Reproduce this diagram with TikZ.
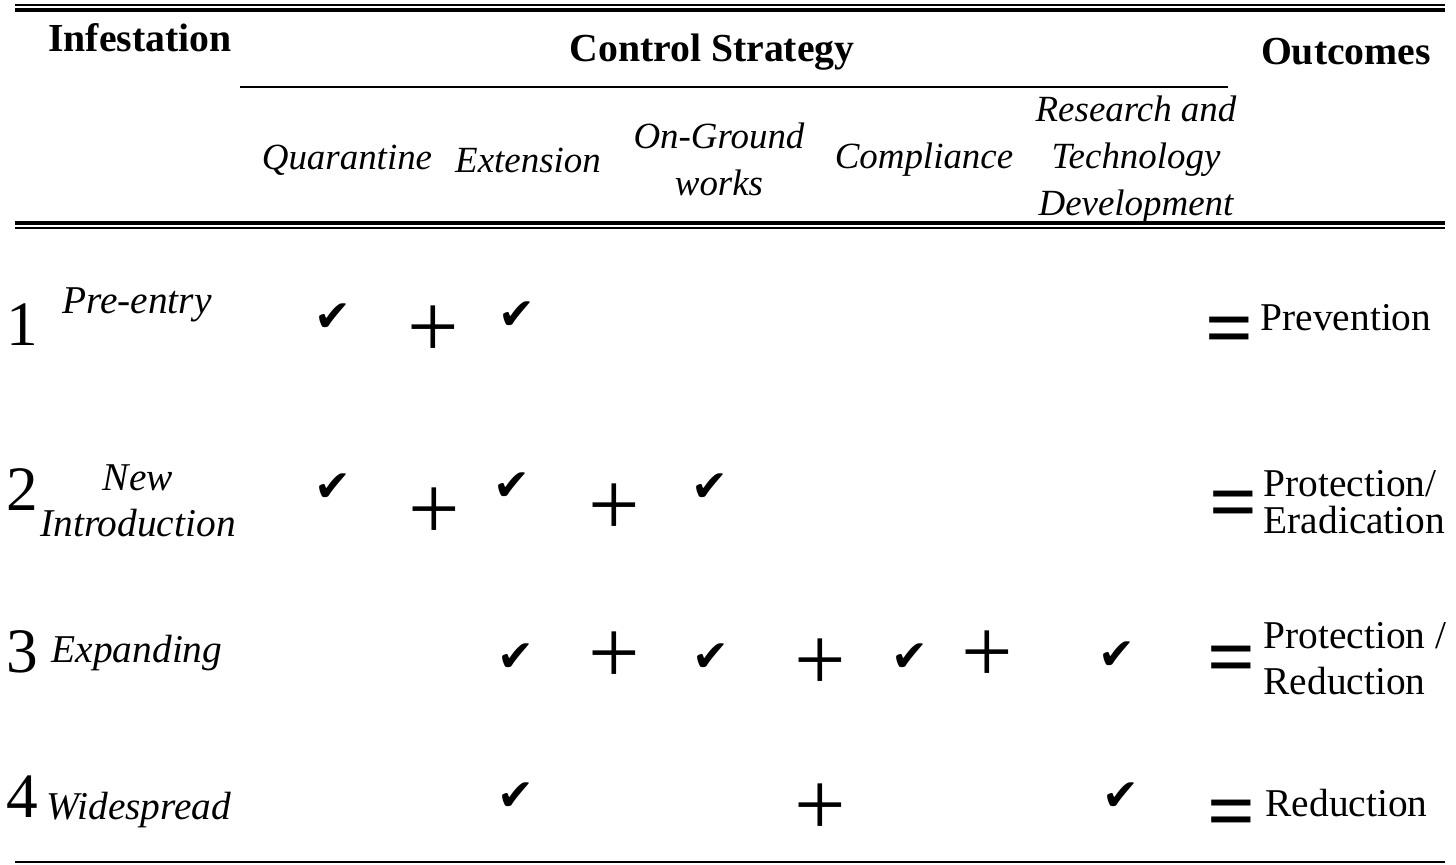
\documentclass[tikz,border=0pt]{standalone}
\usepackage{fontspec}
\setmainfont{Liberation Serif}
\newfontfamily\symfont{DejaVu Sans}
\usetikzlibrary{positioning}
\definecolor{tblack}{RGB}{0, 0, 0}
\tikzset{
    headnode/.style={font=\fontsize{11.3}{13}\selectfont\bfseries, text=tblack, inner sep=0pt},
    colnode/.style={font=\fontsize{10.5}{13.4}\selectfont\itshape, align=center, inner sep=0pt},
    rownode/.style={font=\fontsize{11.2}{13.1}\selectfont\itshape, align=center, inner sep=0pt},
    numnode/.style={font=\fontsize{18}{20}\selectfont, inner sep=0pt},
    ticknode/.style={font=\symfont\fontsize{12.5}{14}\selectfont, inner sep=0pt},
    plusnode/.style={font=\fontsize{26}{26}\selectfont, inner sep=0pt},
    eqnode/.style={font=\fontsize{24}{24}\selectfont\bfseries, inner sep=0pt},
    outnode/.style={font=\fontsize{11.2}{13.1}\selectfont, align=left, anchor=west, inner sep=0pt},
    thinrule/.style={draw=tblack, line width=0.45pt},
    thickrule/.style={draw=tblack, line width=0.9pt}
}

\begin{document}
\begin{tikzpicture}[x=0.01cm, y=-0.01cm]
    \useasboundingbox (0,0) rectangle (1456,865);
    % rules
    \draw[thinrule] (15,5) -- (1445,5);
    \draw[thickrule] (15,10) -- (1445,10);
    \draw[thinrule] (240,87) -- (1228,87);
    \draw[thickrule] (15,223) -- (1445,223);
    \draw[thinrule] (15,228) -- (1445,228);
    \draw[thinrule] (15,862) -- (1445,862);
    % header
    \node[headnode] (infest) at (140,38) {Infestation};
    \node[headnode] (control) at (712,52) {Control Strategy};
    \node[headnode] (outcomes) at (1346,52) {Outcomes};
    \node[colnode] (quar) at (347,160) {Quarantine};
    \node[colnode] (ext) at (528,160) {Extension};
    \node[colnode] (onground) at (719,159) {On-Ground\\works};
    \node[colnode] (compl) at (924,160) {Compliance};
    \node[colnode] (research) at (1136,160) {Research and\\Technology\\Development};
    % infestation stages
    \foreach \n/\ny in {1/325, 2/490, 3/652, 4/797}
        \node[numnode] (num\n) at (22,\ny) {\n};
    \node[rownode] (preentry) at (137,305) {Pre-entry};
    \node[rownode] (newintro) at (138,501) {New\\Introduction};
    \node[rownode] (expanding) at (137,653) {Expanding};
    \node[rownode] (widespread) at (139,810) {Widespread};
    % ticks and operators
    \foreach \cx/\cy [count=\i] in {333/318, 517/316, 333/488, 512/487, 710/488,
        516/658, 711/658, 910/658, 1117/656, 516/797, 1121/797}
        \node[ticknode] (tick\i) at (\cx,\cy) {✔};
    \foreach \cx/\cy [count=\i] in {433/332, 434/514, 614/510, 614/658, 820/665,
        987/657, 820/810}
        \node[plusnode] (plus\i) at (\cx,\cy) {+};
    \foreach \cx/\cy [count=\i] in {1230/337, 1234/511, 1232/666, 1232/820}
        \node[eqnode] (eq\i) at (\cx,\cy) {=};
    % outcomes
    \node[outnode] (prevent) at (1260,318) {Prevention};
    \node[outnode, font=\fontsize{11.2}{10.6}\selectfont] (proterad) at (1263,502) {Protection/\\Eradication};
    \node[outnode] (protred) at (1263,659) {Protection /\\Reduction};
    \node[outnode] (reduct) at (1265,803) {Reduction};
\end{tikzpicture}
\end{document}
